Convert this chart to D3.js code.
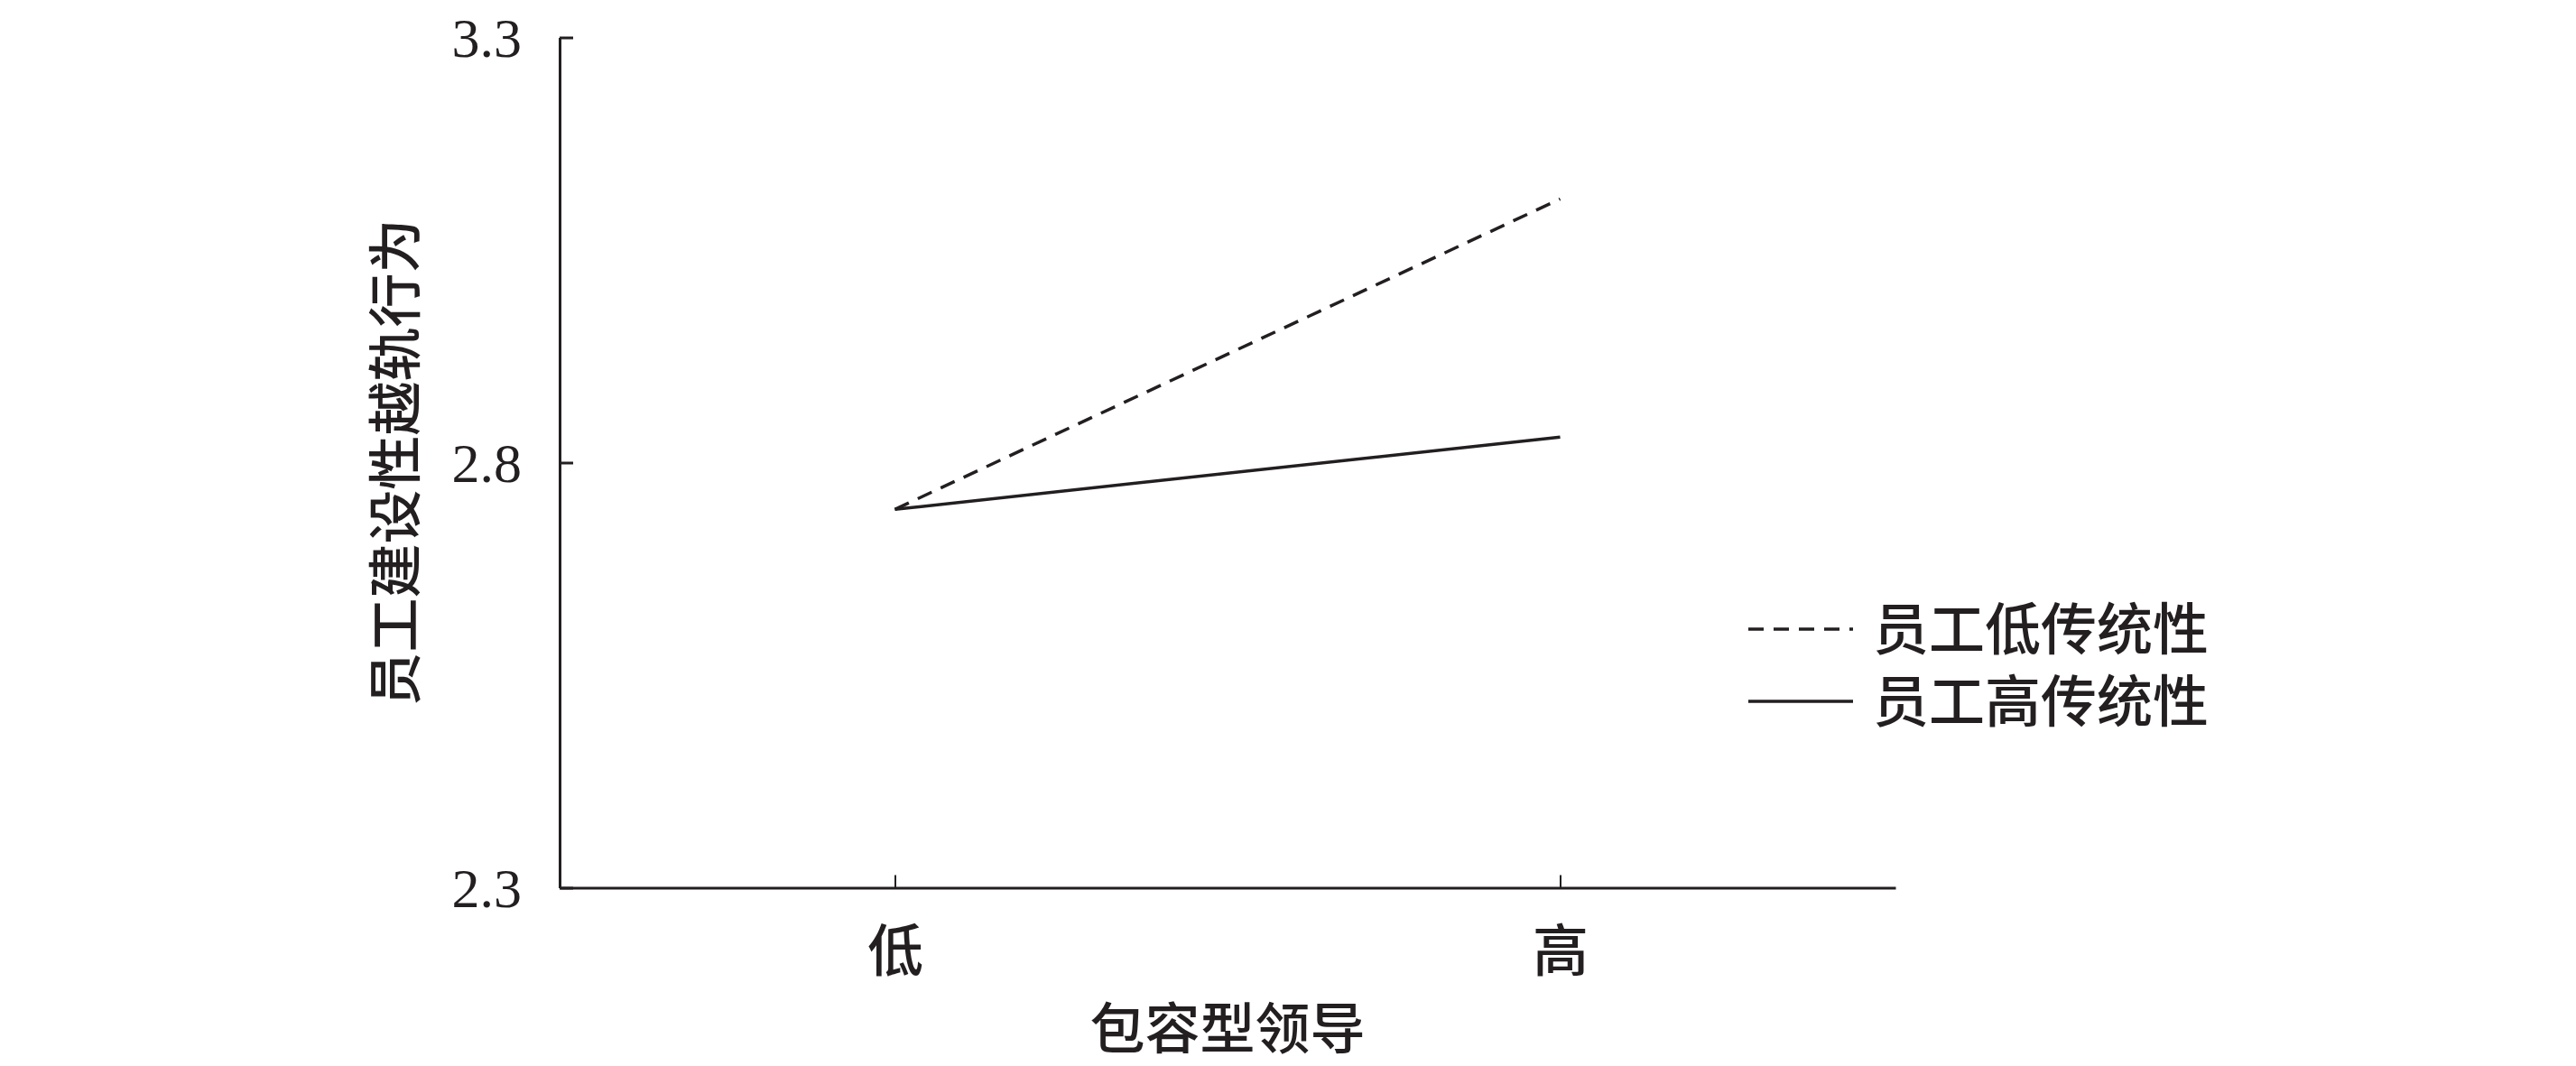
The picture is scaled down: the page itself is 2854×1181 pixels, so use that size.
<!DOCTYPE html>
<html>
<head>
<meta charset="utf-8">
<script src="https://cdn.jsdelivr.net/npm/d3@7"></script>
<style>
  html, body { margin: 0; padding: 0; background: #ffffff; }
  svg { display: block; }
</style>
</head>
<body>
<svg id="chart" width="2854" height="1181"></svg>
<script>
// Simple-slope plot: inclusive leadership (low/high) vs. constructive deviance,
// moderated by employee traditionality.
const categories = ["低", "高"];
const seriesNames = ["员工低传统性", "员工高传统性"];
const lowTraditionality = [2.745, 3.11];
const highTraditionality = [2.745, 2.83];
const yTicks = [2.3, 2.8, 3.3];
const xTitle = "包容型领导";
const yTitle = "员工建设性越轨行为";

const ink = "#231f20";
const cjk = "'Noto Sans CJK SC', 'Noto Sans', sans-serif";
const serif = "'Liberation Serif', 'Times New Roman', serif";

const svg = d3.select("#chart");
svg.append("rect").attr("width", 2854).attr("height", 1181).attr("fill", "#fff");

const plot = { left: 620, right: 2100, top: 41.5, bottom: 983.5 };

const x = d3.scalePoint()
  .domain(categories)
  .range([plot.left, plot.right])
  .padding(0.504);

const y = d3.scaleLinear()
  .domain([2.3, 3.3])
  .range([plot.bottom, plot.top]);

// Y axis: ticks point inward, labels in serif digits
const yAxis = svg.append("g")
  .attr("transform", `translate(${plot.left},0)`)
  .call(d3.axisLeft(y).tickValues(yTicks).tickFormat(d3.format(".1f"))
    .tickSizeInner(-15).tickSizeOuter(0).tickPadding(42));
yAxis.select(".domain").attr("stroke", ink).attr("stroke-width", 3);
yAxis.selectAll(".tick line").attr("stroke", ink).attr("stroke-width", 3);
yAxis.selectAll(".tick text")
  .attr("fill", ink)
  .attr("font-family", serif)
  .attr("font-size", 62)
  .attr("dy", "0.34em");

// X axis: ticks point upward
const xAxis = svg.append("g")
  .attr("transform", `translate(0,${plot.bottom})`)
  .call(d3.axisBottom(x).tickSizeInner(-14).tickSizeOuter(0).tickPadding(0));
xAxis.select(".domain").attr("stroke", ink).attr("stroke-width", 3);
xAxis.selectAll(".tick line").attr("stroke", ink).attr("stroke-width", 2);
xAxis.selectAll(".tick text")
  .attr("fill", ink)
  .attr("font-family", cjk)
  .attr("font-size", 62)
  .attr("font-weight", 500)
  .attr("y", 92)
  .attr("dy", null);

// Axis titles
svg.append("text")
  .attr("x", (plot.left + plot.right) / 2)
  .attr("y", 1162)
  .attr("text-anchor", "middle")
  .attr("font-family", cjk)
  .attr("font-size", 61)
  .attr("font-weight", 500)
  .attr("fill", ink)
  .text(xTitle);

svg.append("text")
  .attr("transform", `translate(460,${(plot.top + plot.bottom) / 2}) rotate(-90)`)
  .attr("text-anchor", "middle")
  .attr("font-family", cjk)
  .attr("font-size", 60)
  .attr("font-weight", 500)
  .attr("fill", ink)
  .text(yTitle);

// Slope lines
const line = d3.line()
  .x((d, i) => x(categories[i]))
  .y(d => y(d));

const series = [
  { name: seriesNames[0], values: lowTraditionality, dash: "17,11" },
  { name: seriesNames[1], values: highTraditionality, dash: null }
];

svg.append("g").selectAll("path")
  .data(series)
  .join("path")
  .attr("d", d => line(d.values))
  .attr("fill", "none")
  .attr("stroke", ink)
  .attr("stroke-width", 3.5)
  .attr("stroke-dasharray", d => d.dash);

// Legend
const legend = svg.append("g");
const legendRows = [697, 777];
series.forEach((s, i) => {
  legend.append("line")
    .attr("x1", 1937).attr("x2", 2053)
    .attr("y1", legendRows[i]).attr("y2", legendRows[i])
    .attr("stroke", ink)
    .attr("stroke-width", 3.5)
    .attr("stroke-dasharray", s.dash);
  legend.append("text")
    .attr("x", 2075)
    .attr("y", legendRows[i] + 23)
    .attr("font-family", cjk)
    .attr("font-size", 62)
    .attr("font-weight", 500)
    .attr("fill", ink)
    .text(s.name);
});
</script>
</body>
</html>
